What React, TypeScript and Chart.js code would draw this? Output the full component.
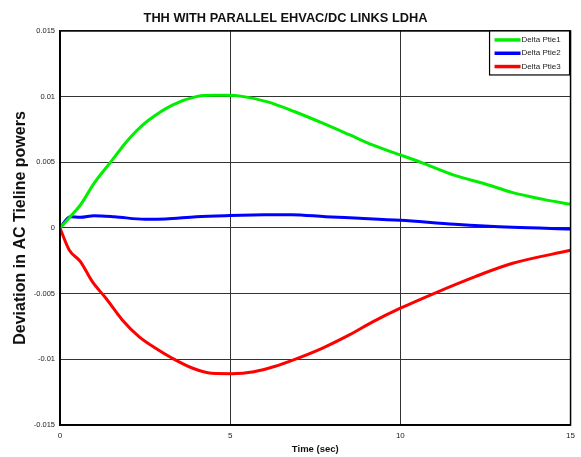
import { useEffect, useRef } from 'react';
import { Chart, registerables } from 'chart.js';

Chart.register(...registerables);

const chartTitle = 'THH WITH PARALLEL EHVAC/DC LINKS LDHA';
const xTitle = 'Time (sec)';
const yTitle = 'Deviation in AC Tieline powers';
const seriesNames = ['Delta Ptie1', 'Delta Ptie2', 'Delta Ptie3'];
const seriesColors = ['#00ee00', '#0000ff', '#ff0000'];

const tGreen = [0, 0.3, 0.6, 1.0, 1.5, 1.9, 2.25, 2.6, 3.3, 4.0, 4.5, 4.9, 5.4, 6.1, 6.9, 7.7, 8.5, 9.2, 10.0, 10.7, 11.6, 12.5, 13.3, 14.2, 15];
const vGreen = [0, 0.00086, 0.00175, 0.0034, 0.00505, 0.0064, 0.0074, 0.0082, 0.00936, 0.0100, 0.0101, 0.0101, 0.0100, 0.0096, 0.00885, 0.0080, 0.0071, 0.0063, 0.00556, 0.0049, 0.0040, 0.00335, 0.00269, 0.00218, 0.0018];

const tBlue = [0, 0.3, 0.6, 1.0, 1.6, 2.5, 3.1, 4.0, 5.0, 6.0, 6.8, 7.8, 8.8, 10.0, 11.6, 13.3, 15];
const vBlue = [0, 0.00086, 0.00081, 0.00094, 0.00086, 0.00066, 0.00068, 0.00086, 0.00095, 0.001, 0.00101, 0.00086, 0.00074, 0.00058, 0.00028, 0.00005, -0.00008];

const tRed = [0, 0.27, 0.6, 0.95, 1.35, 1.83, 2.32, 2.81, 3.3, 3.9, 4.45, 5.05, 5.7, 6.3, 6.9, 7.7, 8.5, 9.2, 10.0, 11.0, 12.2, 13.3, 15];
const vRed = [0, -0.00167, -0.00256, -0.00409, -0.00535, -0.0070, -0.00827, -0.00916, -0.00992, -0.01068, -0.01106, -0.01109, -0.01094, -0.01055, -0.0100, -0.00916, -0.00814, -0.00713, -0.00611, -0.00497, -0.0037, -0.00269, -0.0017];

const seriesTimes = [tGreen, tBlue, tRed];
const seriesValues = [vGreen, vBlue, vRed];

const FONT = 'Arial, "Liberation Sans", Helvetica, sans-serif';

const frameAndLegend = {
  id: 'frameAndLegend',
  afterDatasetsDraw(chart: any) {
    const { ctx, chartArea } = chart;
    const { left, top, right, bottom } = chartArea;
    ctx.save();
    ctx.strokeStyle = '#000';
    ctx.lineWidth = 1.5;
    ctx.strokeRect(left, top, right - left, bottom - top);
    const bx = right - 81;
    const by = top;
    const bw = 80;
    const bh = 44;
    ctx.fillStyle = '#fff';
    ctx.fillRect(bx, by, bw, bh);
    ctx.lineWidth = 1.2;
    ctx.strokeRect(bx, by, bw, bh);
    ctx.font = `8px ${FONT}`;
    ctx.textBaseline = 'middle';
    ctx.textAlign = 'left';
    seriesNames.forEach((name, i) => {
      const y = by + 9 + i * 13.3;
      ctx.strokeStyle = seriesColors[i];
      ctx.lineWidth = 3.5;
      ctx.beginPath();
      ctx.moveTo(bx + 5, y);
      ctx.lineTo(bx + 31, y);
      ctx.stroke();
      ctx.fillStyle = '#222';
      ctx.fillText(name, bx + 32, y);
    });
    ctx.restore();
  },
};

export default function App() {
  const ref = useRef<HTMLCanvasElement | null>(null);
  useEffect(() => {
    if (!ref.current) return;
    const chart = new Chart(ref.current, {
      type: 'line',
      data: {
        datasets: seriesNames.map((name, i) => ({
          label: name,
          data: seriesTimes[i].map((t, j) => ({ x: t, y: seriesValues[i][j] })),
          borderColor: seriesColors[i],
          backgroundColor: seriesColors[i],
          borderWidth: 3,
          pointRadius: 0,
          tension: 0.4,
          cubicInterpolationMode: 'monotone' as const,
          fill: false,
        })),
      },
      options: {
        responsive: false,
        animation: false,
        devicePixelRatio: 1,
        layout: { padding: { left: 0, right: 10, top: 0, bottom: 0 } },
        plugins: {
          legend: { display: false },
          tooltip: { enabled: false },
          title: {
            display: true,
            text: chartTitle,
            color: '#111',
            font: { family: FONT, size: 12.8, weight: 'bold' },
            padding: { top: 10.5, bottom: 5.1 },
          },
        },
        scales: {
          x: {
            type: 'linear',
            min: 0,
            max: 15,
            ticks: {
              stepSize: 5,
              color: '#222',
              font: { family: FONT, size: 8 },
              padding: 6,
            },
            grid: { color: '#333', lineWidth: 1, drawTicks: false },
            border: { color: '#000', width: 1.5 },
            title: {
              display: true,
              text: xTitle,
              color: '#111',
              font: { family: FONT, size: 9.5, weight: 'bold' },
              padding: { top: 0, bottom: 1.5 },
            },
            afterFit: (s: any) => {
              s.height = 32;
            },
          },
          y: {
            type: 'linear',
            min: -0.015,
            max: 0.015,
            ticks: {
              stepSize: 0.005,
              color: '#222',
              font: { family: FONT, size: 7.5 },
              padding: 5,
              callback: (v: any) => {
                const n = Math.round(Number(v) * 1000) / 1000;
                return n === 0 ? '0' : String(n);
              },
            },
            grid: { color: '#333', lineWidth: 1, drawTicks: false },
            border: { color: '#000', width: 1.5 },
            title: {
              display: true,
              text: yTitle,
              color: '#111',
              font: { family: FONT, size: 16, weight: 'bold' },
              padding: { top: 11.4, bottom: 0 },
            },
            afterFit: (s: any) => {
              s.width = 60;
            },
          },
        },
      },
      plugins: [frameAndLegend],
    });
    return () => chart.destroy();
  }, []);
  return (
    <div style={{ position: 'absolute', left: 0, top: 0, width: 581, height: 457, background: '#fff' }}>
      <canvas ref={ref} width={581} height={457} />
    </div>
  );
}
